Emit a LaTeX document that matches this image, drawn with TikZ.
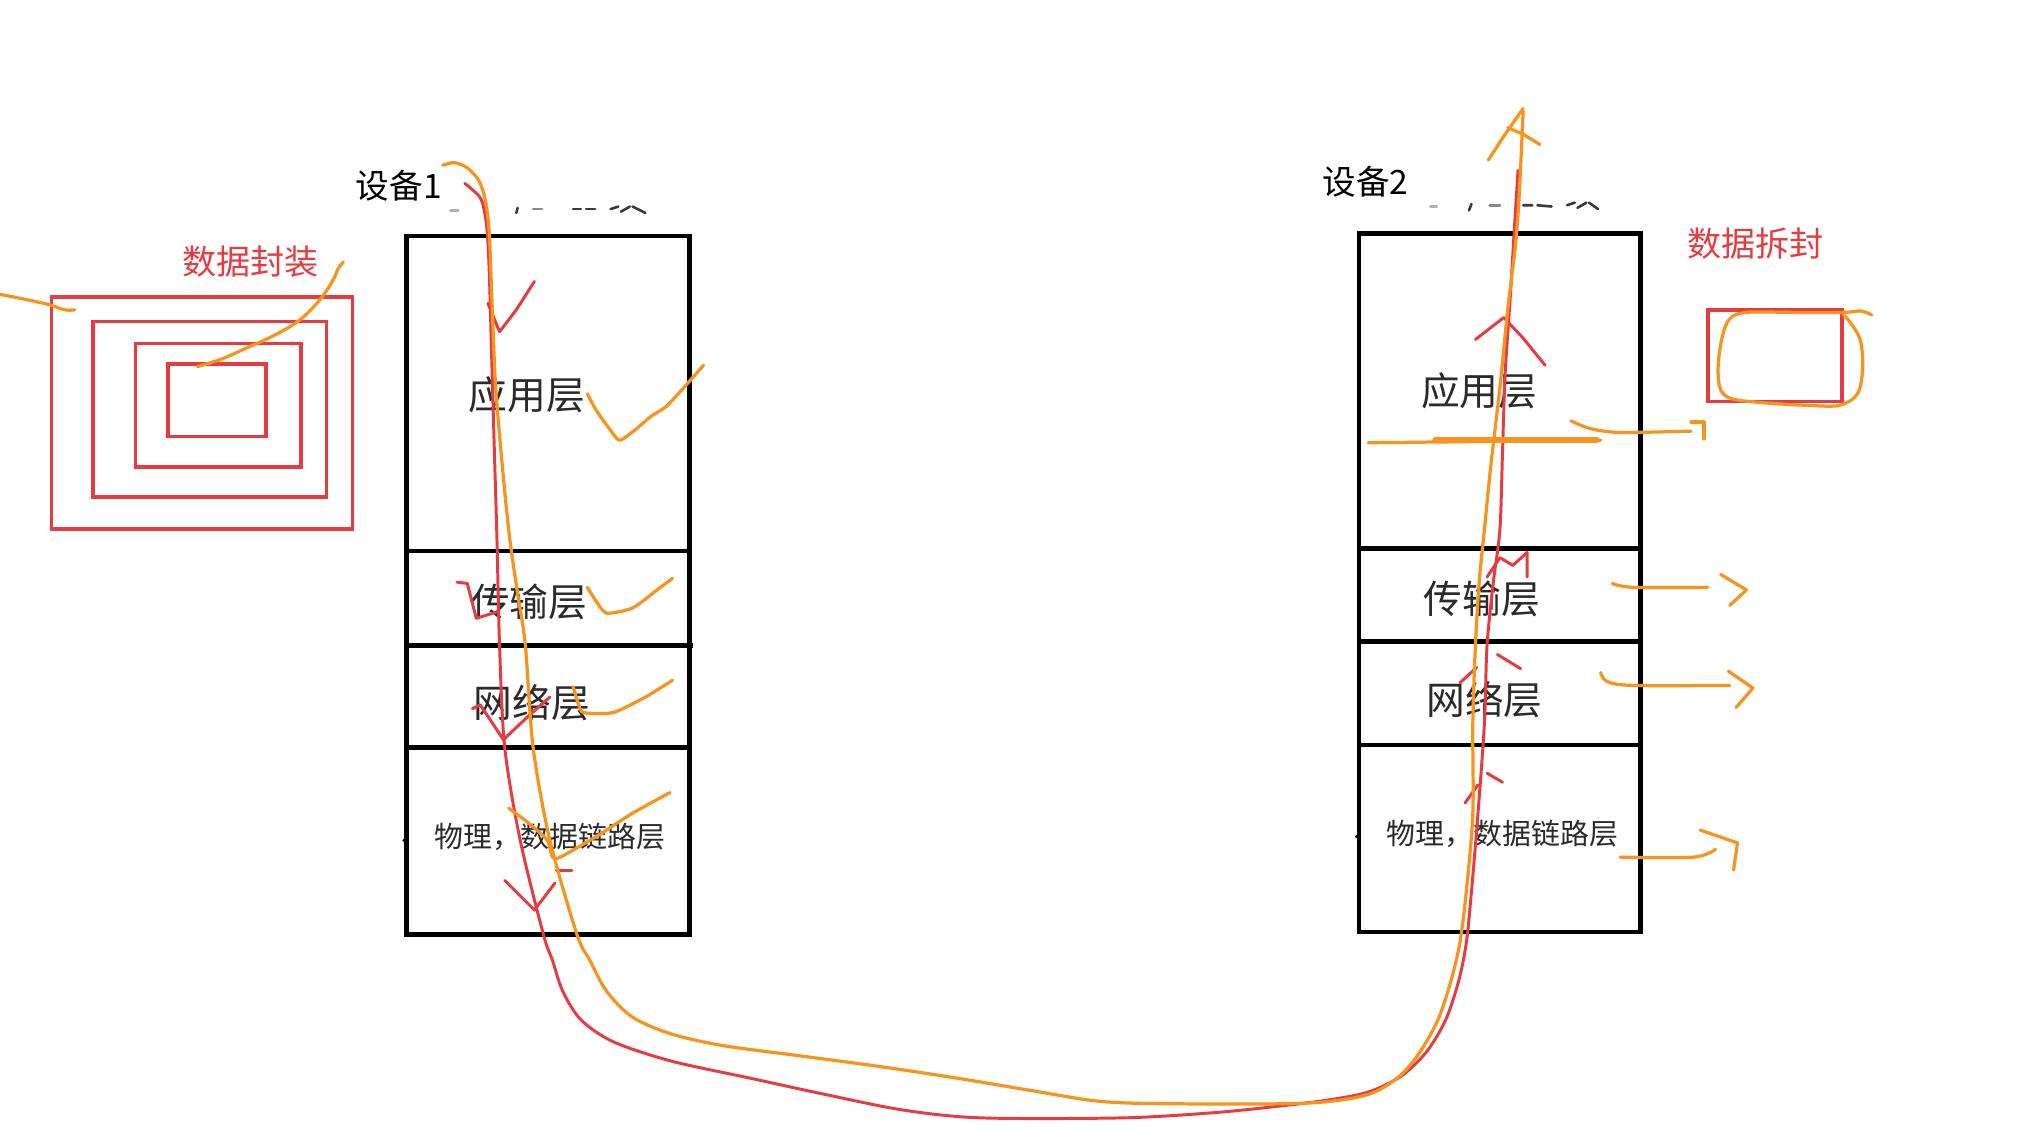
\documentclass[tikz,border=0pt]{standalone}
\usepackage{fontspec}
\newfontfamily\cjk{Noto Sans CJK SC}
\definecolor{penred}{HTML}{E63B40}
\definecolor{penorange}{HTML}{F7941D}
\definecolor{labelgray}{HTML}{2A2A2A}
\definecolor{fadegray}{HTML}{3A3A3A}
\tikzset{
  stackbox/.style={draw=black, line width=1.7pt},
  layerlabel/.style={font=\cjk\fontsize{15pt}{18pt}\selectfont, text=labelgray, inner sep=0pt},
  smalllabel/.style={font=\cjk\fontsize{11.2pt}{13pt}\selectfont, text=labelgray, inner sep=0pt},
  devlabel/.style={font=\cjk\fontsize{13pt}{15pt}\selectfont, text=black, inner sep=0pt},
  redlabel/.style={font=\cjk\fontsize{13.2pt}{15pt}\selectfont, text=penred, inner sep=0pt},
  redrect/.style={draw=penred, line width=1.4pt},
  redpen/.style={draw=penred, line width=1.15pt, line cap=round, line join=round},
  orangepen/.style={draw=penorange, line width=1.25pt, line cap=round, line join=round},
  fade/.style={draw=fadegray, line width=1pt, line cap=round}
}
\begin{document}
\begin{tikzpicture}[x=0.5pt,y=-0.5pt]
\useasboundingbox (0,0) rectangle (1568,884.7);
\fill[white] (0,0) rectangle (1568,884.7);

% ---------- left stack (device 1) ----------
\draw[stackbox] (315,183) rectangle (534,724);
\draw[stackbox] (315,427) -- (534,427);
\draw[stackbox] (315,500) -- (537,500);
\draw[stackbox] (315,579) -- (534,579);
\fill (313,651) circle (1.4);
\node[layerlabel] (l1app) at (408,306) {应用层};
\node[layerlabel] (l1tra) at (410,466) {传输层};
\node[layerlabel] (l1net) at (412,544) {网络层};
\node[smalllabel] (l1phy) at (426,648) {物理，数据链路层};
\node[devlabel] (dev1) at (309,144) {设备1};
% faded remnants of clipped text
\draw[fade, draw=fadegray!40] (349,163) -- (355,163);
\draw[fade] (401,161) -- (400,165);
\draw[fade, draw=fadegray!60] (413,162) -- (420,162);
\draw[fade] (444,162) -- (450,162) (454,162) -- (461,162);
\draw[fade] (473,162) -- (479,160) (481,164) -- (488,160) (490,160) -- (500,165);

% ---------- right stack (device 2) ----------
\draw[stackbox] (1053,181) rectangle (1271,722);
\draw[stackbox] (1053,425) -- (1271,425);
\draw[stackbox] (1053,497) -- (1273,497);
\draw[stackbox] (1053,577) -- (1271,577);
\fill (1051,648) circle (1.4);
\node[layerlabel] (l2app) at (1146,303) {应用层};
\node[layerlabel] (l2tra) at (1148,464) {传输层};
\node[layerlabel] (l2net) at (1150,542) {网络层};
\node[smalllabel] (l2phy) at (1164,646) {物理，数据链路层};
\node[devlabel] (dev2) at (1058,141) {设备2};
\draw[fade, draw=fadegray!40] (1108,160) -- (1113,160);
\draw[fade] (1140,158) -- (1138,163);
\draw[fade, draw=fadegray!60] (1154,159) -- (1162,159);
\draw[fade] (1180,159) -- (1187,159) (1191,159) -- (1202,160);
\draw[fade] (1214,159) -- (1220,157) (1222,161) -- (1229,157) (1231,157) -- (1238,162);

% ---------- encapsulation (left) ----------
\node[redlabel] (enc) at (194,203) {数据封装};
\draw[redrect] (40,230) rectangle (273,410);
\draw[redrect] (72,249) rectangle (253,385);
\draw[redrect] (105,266) rectangle (233,362);
\draw[redrect] (130,282) rectangle (206,338);
\draw[orangepen] plot[smooth, tension=0.6] coordinates {(0,228) (20,232) (38,236) (50,240) (58,240)};
\draw[orangepen] plot[smooth, tension=0.6] coordinates {(153,284) (172,278) (190,270) (212,260) (232,248) (248,232) (258,217) (262,208) (266,203)};

% ---------- decapsulation (right) ----------
\node[redlabel] (dec) at (1360,189) {数据拆封};
\draw[redrect] (1323,240) rectangle (1427,311);
\draw[orangepen] plot[smooth, tension=0.55] coordinates {(1450,244) (1442,241) (1428,242) (1390,242) (1353,242) (1340,247) (1334,262) (1331,285) (1333,302) (1342,309) (1366,312) (1400,314) (1425,314) (1439,305) (1443,285) (1441,263) (1432,248) (1428,244)};

% ---------- red path (encapsulation then decapsulation) ----------
\draw[redpen] plot[smooth, tension=0.5] coordinates {
 (360,142) (366,147) (373,155) (377,175) (379,210) (381,280) (383,350) (385,418)
 (387,500) (391,579) (403,651) (421,724) (428,744) (436,768) (450,790) (475,807)
 (520,822) (580,835) (640,848) (700,860) (760,866) (870,866) (940,862) (990,857)
 (1030,852) (1060,846) (1085,834) (1105,815) (1120,790) (1130,760) (1136,730)
 (1140,690) (1145,630) (1150,560) (1152,500) (1157,450) (1162,410) (1164,350)
 (1166,290) (1170,230) (1173,180) (1176,132)};
% red arrow marks, left (downward)
\draw[redpen] (378,235) -- (387,257) -- (400,240) -- (414,218);
\draw[redpen] (354,451) -- (362,452) -- (369,479) -- (385,474);
\draw[redpen] (366,549) -- (372,546) -- (390,573) -- (408,556) -- (426,540);
\draw[redpen] (391,682) -- (414,705) -- (430,684);
\draw[redpen] (431,674) -- (443,674);
% red arrow marks, right (upward)
\draw[redpen] (1143,263) -- (1165,246) -- (1180,262) -- (1197,283);
\draw[redpen] (1152,447) -- (1162,432) -- (1172,438) -- (1183,428) -- (1183,447);
\draw[redpen] (1131,529) -- (1144,517);
\draw[redpen] (1160,507) -- (1178,518);
\draw[redpen] (1135,622) -- (1145,608);
\draw[redpen] (1152,599) -- (1164,606);

% ---------- orange path ----------
\draw[orangepen] plot[smooth, tension=0.5] coordinates {
 (343,128) (352,126) (362,130) (371,140) (376,155) (379,180) (381,230) (384,300)
 (390,370) (395,418) (401,460) (407,500) (413,579) (426,651) (447,724) (457,744)
 (470,768) (490,788) (520,801) (560,810) (620,818) (680,826) (740,835) (800,845)
 (850,853) (900,855) (1000,855) (1040,852) (1065,846) (1085,833) (1100,815)
 (1114,790) (1124,760) (1131,730) (1136,690) (1141,630) (1141,560) (1143,500)
 (1146,450) (1150,410) (1155,360) (1162,300) (1168,240) (1174,190) (1177,150) (1180,86)};
% arrow head at top right
\draw[orangepen] (1153,124) -- (1166,104) -- (1180,84);
\draw[orangepen] (1168,99) -- (1180,104) -- (1193,112);
% check strokes, left
\draw[orangepen] plot[smooth, tension=0.4] coordinates {(455,305) (462,318) (472,332) (480,341) (492,333) (505,322) (516,315) (530,300) (545,283)};
\draw[orangepen] plot[smooth, tension=0.4] coordinates {(455,455) (462,466) (470,475) (490,471) (509,457) (521,448)};
\draw[orangepen] plot[smooth, tension=0.4] coordinates {(444,532) (448,545) (452,552) (475,552) (500,540) (521,527)};
\draw[orangepen] plot[smooth, tension=0.4] coordinates {(394,626) (410,638) (424,651) (428,664) (434,664) (462,648) (490,630) (519,614)};
% right side strokes
\draw[orangepen] (1060,343) -- (1240,341);
\draw[orangepen, line width=2.4pt] (1112,341) -- (1237,341);
\draw[orangepen] plot[smooth, tension=0.5] coordinates {(1217,326) (1232,332) (1255,335) (1310,334)};
\draw[orangepen] (1310,327) -- (1320,327) -- (1320,340);
\draw[orangepen] plot[smooth, tension=0.5] coordinates {(1249,452) (1265,455) (1323,455)};
\draw[orangepen] (1333,445) -- (1353,457) -- (1340,469);
\draw[orangepen] plot[smooth, tension=0.5] coordinates {(1240,521) (1245,528) (1265,531) (1340,531)};
\draw[orangepen] (1339,520) -- (1358,533) -- (1345,548);
\draw[orangepen] plot[smooth, tension=0.5] coordinates {(1255,664) (1312,664) (1329,658)};
\draw[orangepen] (1317,643) -- (1346,653) -- (1343,674);
\end{tikzpicture}
\end{document}
